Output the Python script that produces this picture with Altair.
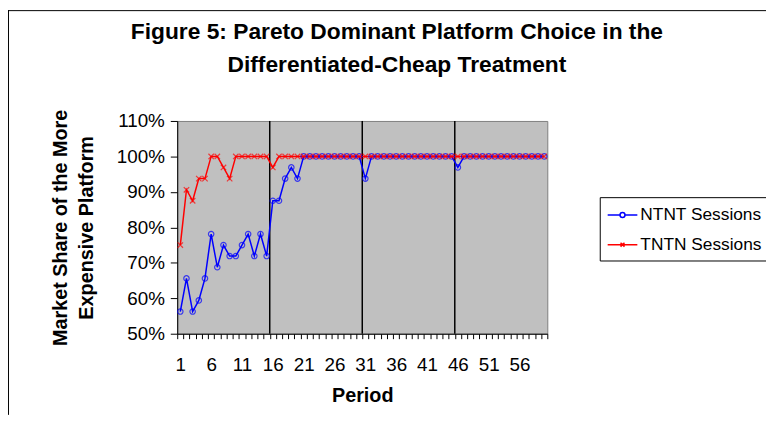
import altair as alt
import pandas as pd

# ---------------- data ----------------
periods = list(range(1, 61))
series_names = ["NTNT Sessions", "TNTN Sessions"]
series_colors = ["#0000FF", "#FF0000"]

ntnt = [56.25, 65.6, 56.25, 59.4, 65.6, 78.1, 68.75, 75.0, 71.9, 71.9,
        75.0, 78.1, 71.9, 78.1, 71.9, 87.5, 87.5, 93.75, 96.9, 93.75,
        100, 100, 100, 100, 100, 100, 100, 100, 100, 100,
        93.75, 100, 100, 100, 100, 100, 100, 100, 100, 100,
        100, 100, 100, 100, 100, 96.9, 100, 100, 100, 100,
        100, 100, 100, 100, 100, 100, 100, 100, 100, 100]
tntn = [75.0, 90.6, 87.5, 93.75, 93.75, 100, 100, 96.9, 93.75, 100,
        100, 100, 100, 100, 100, 96.9, 100, 100, 100, 100,
        100, 100, 100, 100, 100, 100, 100, 100, 100, 100,
        100, 100, 100, 100, 100, 100, 100, 100, 100, 100,
        100, 100, 100, 100, 100, 100, 100, 100, 100, 100,
        100, 100, 100, 100, 100, 100, 100, 100, 100, 100]

session_breaks = [15.5, 30.5, 45.5]
x_tick_labels = [1, 6, 11, 16, 21, 26, 31, 36, 41, 46, 51, 56]
x_tick_bounds = [p - 0.5 for p in periods] + [60.5]
y_ticks = [0.5, 0.6, 0.7, 0.8, 0.9, 1.0, 1.1]

rows = []
for name, vals in zip(series_names, [ntnt, tntn]):
    for p, v in zip(periods, vals):
        rows.append({"period": p, "share": v / 100.0, "series": name})
df = pd.DataFrame(rows)

FONT = "Liberation Sans"
W, H = 374, 215
PAD = {"left": 171, "top": 112, "right": 221, "bottom": 82}

# ---------------- encodings ----------------
label_list = ",".join(str(v) for v in x_tick_labels)
x_enc = alt.X(
    "period:Q",
    scale=alt.Scale(domain=[0.5, 60.5], nice=False, zero=False),
    axis=alt.Axis(
        values=x_tick_bounds,
        tickCount=200,
        labelExpr=f"indexof([{label_list}], datum.value + 0.5) >= 0 ? toString(datum.value + 0.5) : ''",
        labelOffset=3.1,
        labelOverlap=False,
        labelFlush=False,
        labelPadding=17,
        labelFontSize=19,
        labelFont=FONT,
        labelColor="black",
        tickSize=5,
        tickColor="black",
        domainColor="black",
        grid=False,
        title="Period",
        titleFont=FONT,
        titleFontSize=20,
        titleFontWeight="bold",
        titleColor="black",
        titleBaseline="alphabetic",
        titleY=68,
    ),
)
y_enc = alt.Y(
    "share:Q",
    scale=alt.Scale(domain=[0.5, 1.1], nice=False, zero=False),
    axis=alt.Axis(
        values=y_ticks,
        format=".0%",
        labelFontSize=19,
        labelFont=FONT,
        labelColor="black",
        labelPadding=6,
        tickSize=7,
        tickColor="black",
        domainColor="black",
        grid=False,
        title=["Market Share of the More", "Expensive Platform"],
        titleFont=FONT,
        titleFontSize=20,
        titleFontWeight="bold",
        titleColor="black",
        titleBaseline="alphabetic",
        titleLineHeight=26,
        titleX=-112,
    ),
)


def color_enc(legend=None):
    return alt.Color("series:N",
                     scale=alt.Scale(domain=series_names, range=series_colors),
                     legend=legend)


base = alt.Chart(df)

breaks = alt.Chart(pd.DataFrame({"x": session_breaks})).mark_rule(
    color="black", strokeWidth=1.5
).encode(x=alt.X("x:Q", scale=alt.Scale(domain=[0.5, 60.5], nice=False, zero=False)))

lines = base.mark_line(strokeWidth=1.5).encode(
    x=x_enc, y=y_enc, color=color_enc()
)

x_marker = "M-1,-1L1,1M-1,1L1,-1"
points = base.mark_point(filled=False, strokeWidth=1.2, size=30).encode(
    x=x_enc, y=y_enc, color=color_enc(),
    shape=alt.Shape("series:N",
                    scale=alt.Scale(domain=series_names, range=["circle", x_marker]),
                    legend=None),
)

leg_circle = "M-1,0H0.25M0.75,0H2M0.75,0A0.25,0.25 0 1,1 0.25,0A0.25,0.25 0 1,1 0.75,0"
leg_cross = "M-1,0H2M0.3,-0.2L0.7,0.2M0.3,0.2L0.7,-0.2"
legend_props = dict(
    title=None,
    orient="none",
    legendX=427,
    legendY=77,
    padding=7,
    rowPadding=10,
    strokeColor="black",
    fillColor="white",
    symbolSize=400,
    symbolStrokeWidth=1.5,
    symbolOpacity=1,
    symbolFillColor="transparent",
    labelFont=FONT,
    labelFontSize=17.5,
    labelColor="black",
    labelOffset=12,
    labelLimit=300,
)
legend_layer = base.mark_point(opacity=0, filled=False).encode(
    x=x_enc, y=y_enc,
    color=color_enc(alt.Legend(**legend_props)),
    shape=alt.Shape(
        "series:N",
        scale=alt.Scale(domain=series_names, range=[leg_circle, leg_cross]),
        legend=alt.Legend(**legend_props),
    ),
)

frame = alt.Chart(pd.DataFrame({"k": [0]})).mark_rule(color="black", strokeWidth=1).encode(
    x=alt.value(-PAD["left"] + 0.5), y=alt.value(-112), y2=alt.value(H + PAD["bottom"])
)
frame_top = alt.Chart(pd.DataFrame({"k": [0]})).mark_rule(color="black", strokeWidth=1).encode(
    x=alt.value(-PAD["left"]), x2=alt.value(W + PAD["right"]), y=alt.value(-111.5)
)

chart = alt.layer(breaks, lines, points, legend_layer, frame, frame_top).resolve_scale(
    shape="independent", color="independent"
).properties(
    width=W,
    height=H,
    padding=PAD,
    autosize=alt.AutoSizeParams(type="none"),
    background="white",
    title=alt.TitleParams(
        text=["Figure 5: Pareto Dominant Platform Choice in the",
              "Differentiated-Cheap Treatment"],
        font=FONT,
        fontSize=23,
        fontWeight="bold",
        color="black",
        anchor="middle",
        frame="group",
        baseline="alphabetic",
        lineHeight=33,
        dx=35,
        dy=86,
        offset=0,
    ),
).configure_view(
    fill="#C0C0C0",
    stroke="#808080",
    strokeWidth=1,
)

chart.save("out.html", embed_options={"renderer": "svg", "actions": False})
